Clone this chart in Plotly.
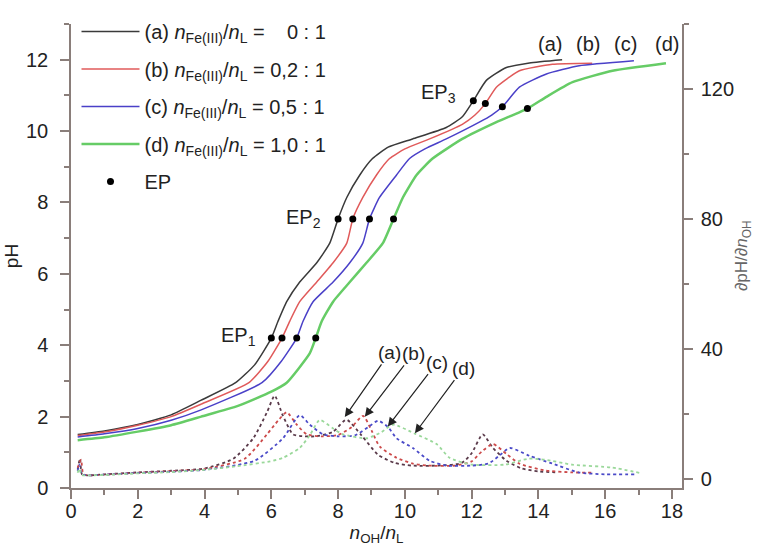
import plotly.graph_objects as go

# ---- titration curves pH vs n_OH/n_L ----
xa = [0.2, 1.0, 2.0, 3.0, 3.9, 4.93, 5.5, 6.0, 6.2, 6.46, 6.85, 7.36, 7.75, 8.0, 8.26, 8.65, 9.03, 9.5, 10.23, 11.24, 11.72, 12.05, 12.44, 13.04, 13.73, 14.71]
ya = [1.50, 1.60, 1.78, 2.05, 2.46, 2.95, 3.45, 4.20, 4.67, 5.22, 5.77, 6.31, 6.86, 7.54, 8.14, 8.77, 9.23, 9.55, 9.78, 10.1, 10.4, 10.85, 11.42, 11.78, 11.91, 12.0]

xb = [0.2, 1.0, 2.0, 3.0, 3.9, 5.33, 5.9, 6.32, 6.55, 6.85, 7.36, 7.85, 8.26, 8.44, 8.74, 9.15, 9.54, 10.0, 10.74, 11.72, 12.1, 12.41, 12.74, 13.43, 14.42, 15.61]
yb = [1.47, 1.57, 1.76, 2.0, 2.35, 2.95, 3.55, 4.20, 4.67, 5.22, 5.77, 6.31, 6.86, 7.54, 8.14, 8.77, 9.23, 9.5, 9.78, 10.19, 10.45, 10.77, 11.23, 11.69, 11.87, 11.9]

xc = [0.2, 1.0, 2.0, 3.0, 3.9, 5.72, 6.3, 6.76, 6.95, 7.25, 7.85, 8.35, 8.74, 8.94, 9.24, 9.75, 10.14, 10.6, 11.24, 12.23, 12.6, 12.92, 13.43, 14.24, 15.22, 16.86]
yc = [1.43, 1.52, 1.67, 1.9, 2.19, 2.95, 3.55, 4.20, 4.67, 5.22, 5.77, 6.31, 6.86, 7.54, 8.14, 8.77, 9.23, 9.5, 9.78, 10.25, 10.45, 10.68, 11.23, 11.6, 11.83, 11.97]

xd = [0.2, 1.0, 2.0, 3.0, 3.9, 5.0, 6.0, 6.46, 7.15, 7.33, 7.51, 7.85, 8.35, 8.85, 9.34, 9.66, 9.94, 10.35, 10.83, 11.72, 12.74, 13.67, 14.24, 15.02, 16.22, 17.82]
yd = [1.34, 1.42, 1.58, 1.76, 2.0, 2.3, 2.7, 2.95, 3.77, 4.20, 4.67, 5.22, 5.77, 6.31, 6.86, 7.54, 8.14, 8.77, 9.23, 9.78, 10.25, 10.63, 10.96, 11.37, 11.69, 11.9]

# ---- equivalence points ----
ep_x = [6.0, 6.32, 6.76, 7.33, 8.0, 8.44, 8.94, 9.66, 12.05, 12.41, 12.92, 13.67]
ep_y = [4.2, 4.2, 4.2, 4.2, 7.54, 7.54, 7.54, 7.54, 10.85, 10.77, 10.68, 10.63]

# ---- first derivatives dpH/dn_OH (right axis) ----
dxa = [0.2, 0.27, 0.33, 0.5, 1.0, 2.0, 3.0, 4.0, 4.86, 5.46, 5.87, 6.1, 6.34, 6.65, 7.0, 7.36, 7.85, 8.25, 8.7, 9.2, 9.7, 10.2, 11.0, 11.7, 12.0, 12.33, 12.64, 13.04, 13.5, 14.0, 14.6]
dya = [3.0, 6.3, 1.5, 1.2, 1.5, 2.1, 2.6, 3.3, 6.3, 12.6, 20.6, 25.7, 19.7, 13.8, 13.2, 13.2, 14.6, 18.3, 13.5, 7.5, 5.0, 4.2, 4.2, 5.0, 8.0, 13.8, 9.6, 5.7, 3.3, 2.4, 2.1]

dxb = [0.2, 0.3, 0.37, 0.5, 1.0, 2.0, 3.0, 4.0, 5.2, 5.87, 6.2, 6.46, 6.76, 7.06, 7.5, 8.0, 8.4, 8.75, 9.0, 9.25, 9.75, 10.24, 10.7, 11.5, 12.0, 12.3, 12.64, 13.04, 13.43, 14.2, 15.0, 15.6]
dyb = [3.5, 6.0, 1.5, 1.2, 1.4, 2.0, 2.5, 3.1, 6.3, 13.8, 18.0, 20.6, 16.8, 13.8, 13.2, 13.6, 16.0, 19.5, 15.0, 10.0, 6.6, 4.8, 4.2, 4.2, 5.5, 8.5, 10.8, 7.8, 4.8, 2.7, 2.1, 2.0]

dxc = [0.2, 0.25, 0.32, 0.5, 1.0, 2.0, 3.0, 4.0, 5.5, 6.35, 6.85, 7.15, 7.55, 8.0, 8.5, 8.9, 9.2, 9.5, 9.75, 10.24, 10.74, 11.24, 12.0, 12.5, 12.8, 13.14, 13.73, 14.42, 15.2, 16.0, 16.9]
dyc = [2.5, 4.5, 1.5, 1.2, 1.4, 1.9, 2.3, 2.9, 5.7, 12.6, 19.7, 16.8, 13.8, 13.2, 13.5, 16.0, 18.0, 16.0, 12.6, 9.6, 5.7, 4.2, 4.2, 4.8, 7.0, 9.6, 7.2, 4.8, 2.1, 1.5, 1.5]

dxd = [0.2, 0.25, 0.32, 0.5, 1.0, 2.0, 3.0, 4.0, 4.97, 5.96, 6.35, 6.85, 7.15, 7.45, 7.85, 8.15, 8.86, 9.3, 9.64, 10.3, 10.95, 11.34, 12.0, 13.0, 13.7, 14.2, 15.0, 16.2, 17.1]
dyd = [2.0, 3.3, 1.3, 1.2, 1.3, 1.8, 2.2, 2.9, 4.0, 5.5, 6.6, 9.6, 13.5, 18.2, 15.6, 13.8, 12.6, 14.5, 16.8, 14.0, 10.8, 6.6, 4.5, 4.5, 6.3, 6.0, 4.5, 3.6, 1.8]

names = [
    "(a) <i>n</i><sub>Fe(III)</sub>/<i>n</i><sub>L</sub> = \u00a0\u00a0\u00a00 : 1",
    "(b) <i>n</i><sub>Fe(III)</sub>/<i>n</i><sub>L</sub> = 0,2 : 1",
    "(c) <i>n</i><sub>Fe(III)</sub>/<i>n</i><sub>L</sub> = 0,5 : 1",
    "(d) <i>n</i><sub>Fe(III)</sub>/<i>n</i><sub>L</sub> = 1,0 : 1",
]
colors = ["#3a3a3a", "#e05a5a", "#4a40c8", "#66cc66"]
dcolors = ["#5a3a4a", "#cc4a4a", "#4a4ac8", "#9ad89a"]
widths = [1.5, 1.5, 1.5, 2.5]

FONT = "Liberation Sans, Arial, sans-serif"
fig = go.Figure()

curves = [(xa, ya), (xb, yb), (xc, yc), (xd, yd)]
dcurves = [(dxa, dya), (dxb, dyb), (dxc, dyc), (dxd, dyd)]

for i, (dx, dy) in enumerate(dcurves):
    fig.add_trace(go.Scatter(x=dx, y=dy, yaxis="y2", mode="lines",
                             line=dict(color=dcolors[i], width=1.8, dash="dot", shape="spline", smoothing=0.6),
                             showlegend=False, hoverinfo="skip"))

for i, (cx, cy) in enumerate(curves):
    fig.add_trace(go.Scatter(x=cx, y=cy, mode="lines", name=names[i], legendgroup=str(i),
                             line=dict(color=colors[i], width=widths[i], shape="spline", smoothing=0.5)))

fig.add_trace(go.Scatter(x=ep_x, y=ep_y, mode="markers", name="EP", legendgroup="ep",
                         marker=dict(color="black", size=7)))

axis_col = "#8a7e7a"
tickfont = dict(family=FONT, size=20, color="#222")

annotations = []
# curve-end labels
for lab, lx in zip(["(a)", "(b)", "(c)", "(d)"], [14.34, 15.47, 16.61, 17.84]):
    annotations.append(dict(x=lx, y=12.45, xref="x", yref="y", text=lab, showarrow=False,
                            font=dict(family=FONT, size=20, color="#222")))
# EP labels
for lab, lx, ly in [("EP<sub>1</sub>", 5.6, 4.25), ("EP<sub>2</sub>", 7.55, 7.55), ("EP<sub>3</sub>", 11.59, 11.05)]:
    annotations.append(dict(x=lx, y=ly, xref="x", yref="y", text=lab, showarrow=False,
                            xanchor="right", font=dict(family=FONT, size=20, color="#222")))
# arrows to derivative curves
for lab, tx, ty, hx, hy in [("(a)", 9.55, 39.0, 8.2, 19.1), ("(b)", 10.25, 38.7, 8.8, 19.2),
                            ("(c)", 10.97, 36.0, 9.49, 16.2), ("(d)", 11.75, 34.2, 10.3, 14.1)]:
    annotations.append(dict(x=hx, y=hy, xref="x", yref="y2", ax=tx, ay=ty, axref="x", ayref="y2",
                            text=lab, showarrow=True, arrowhead=2, arrowsize=1.5, arrowwidth=1.2,
                            arrowcolor="#222", standoff=0,
                            font=dict(family=FONT, size=19, color="#222")))
# right axis title
annotations.append(dict(x=1.1, y=0.5, xref="paper", yref="paper", textangle=-90, showarrow=False,
                        text="\u2202pH/\u2202<i>n</i><sub>OH</sub>", xanchor="center", yanchor="middle",
                        font=dict(family=FONT, size=17, color="#666")))

common = dict(ticks="outside", ticklen=9, tickwidth=1.5, tickcolor=axis_col, showline=True,
              linecolor=axis_col, linewidth=1.5, showgrid=False, zeroline=False, tickfont=tickfont)

fig.update_layout(
    width=759, height=552,
    margin=dict(l=71, r=77, t=13, b=64),
    paper_bgcolor="white", plot_bgcolor="white",
    font=dict(family=FONT, size=19, color="#222"),
    xaxis=dict(range=[0, 18.3], dtick=2, tick0=0, ticklabelstandoff=-5, **common,
               minor=dict(dtick=1, ticks="outside", ticklen=5, tickcolor=axis_col, tickwidth=1.5, showgrid=False),
               title=dict(text="<i>n</i><sub>OH</sub>/<i>n</i><sub>L</sub>", font=dict(family=FONT, size=19, color="#222"), standoff=0)),
    yaxis=dict(range=[0, 13], dtick=2, tick0=0, ticklabelstandoff=8, **common,
               minor=dict(dtick=1, ticks="outside", ticklen=5, tickcolor=axis_col, tickwidth=1.5, showgrid=False),
               title=dict(text="pH", font=dict(family=FONT, size=19, color="#222"), standoff=2)),
    yaxis2=dict(range=[-2.7, 140], dtick=40, tick0=0, overlaying="y", side="right", ticklabelstandoff=4, **common,
                minor=dict(dtick=20, ticks="outside", ticklen=5, tickcolor=axis_col, tickwidth=1.5, showgrid=False)),
    legend=dict(x=0.009, y=1.026, xanchor="left", yanchor="top", bgcolor="rgba(0,0,0,0)", itemwidth=58,
                font=dict(family=FONT, size=20, color="#222"), tracegroupgap=8.5, traceorder="grouped"),
    annotations=annotations,
)

fig.write_html("out.html", config={"displayModeBar": False},
               post_script="document.body.style.margin='0';document.body.style.overflow='hidden';")
